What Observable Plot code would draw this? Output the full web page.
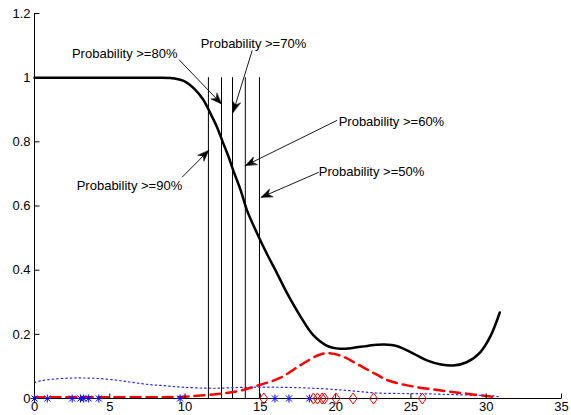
<!DOCTYPE html>
<html><head><meta charset="utf-8">
<script src="https://cdn.jsdelivr.net/npm/d3@7"></script>
<script src="https://cdn.jsdelivr.net/npm/@observablehq/plot@0.6"></script>
<style>body{margin:0;background:#fff;}</style>
</head><body><div id="chart"></div>
<script>
// Black solid curve (probability)
const blackX = [0,2,4,6,8,9,9.9,10.6,11.2,11.7,12.1,12.5,12.9,13.2,13.7,14.1,14.8,15.5,16.0,16.8,17.7,18.5,19.4,20.3,21.2,22.1,23.2,24.1,25.2,26.1,27.0,27.8,28.7,29.6,30.3,30.9];
const blackY = [1,1,1,1,1,0.999,0.99,0.966,0.932,0.887,0.848,0.800,0.752,0.711,0.648,0.588,0.513,0.445,0.40,0.326,0.253,0.198,0.165,0.155,0.158,0.164,0.168,0.163,0.139,0.118,0.106,0.103,0.113,0.144,0.196,0.268];
// Red dashed curve
const redX = [0,5,9.7,11,12.35,13.7,15,16.3,17.7,18.8,19.4,20.3,21.6,22.7,23.5,25.2,27.0,28.7,30.3,30.7];
const redY = [0.004,0.004,0.005,0.009,0.015,0.025,0.043,0.064,0.105,0.134,0.141,0.134,0.103,0.075,0.056,0.037,0.025,0.015,0.006,0.002];
// Blue dotted curve
const blueX = [0,0.5,2,3,4,5.3,6.4,7.5,8.6,9.9,11.9,14.1,16.3,18.5,20.8,22.8,25.6,28,30.5,30.8];
const blueY = [0.05,0.056,0.063,0.064,0.063,0.058,0.051,0.044,0.04,0.035,0.032,0.035,0.035,0.032,0.025,0.017,0.015,0.012,0.008,0.006];
// Markers at y = 0
const starX = [0,0.85,2.5,3.05,3.27,3.6,4.27,9.67,15.97,16.9,18.25];
const diamondX = [15.23,18.52,18.79,19.1,19.26,20.02,21.16,22.52,25.76];
// Threshold vertical lines
const thresholdX = [11.55,12.42,13.15,14.0,14.94];
// Annotations
const labelText = ["Probability >=80%","Probability >=70%","Probability >=60%","Probability >=50%","Probability >=90%"];
const labelX = [5.99,14.54,20.2,18.88,9.81];
const labelY = [1.075,1.106,0.861,0.705,0.664];
const labelAnchor = ["middle","middle","start","start","end"];
const arrowX1 = [9.6,14.46,20.1,18.88,9.81];
const arrowY1 = [1.056,1.085,0.867,0.705,0.69];
const arrowX2 = [12.42,13.19,14.01,15.05,11.57];
const arrowY2 = [0.918,0.892,0.726,0.627,0.773];
// Axis ticks
const xTicks = [0,5,10,15,20,25,30,35];
const yTicks = [0,0.2,0.4,0.6,0.8,1,1.2];

const W = 571, H = 415, mL = 34, mR = 10, mT = 13, mB = 17;
const kx = (W - mL - mR) / 35, ky = (H - mT - mB) / 1.2;
const FONT = "'Liberation Sans', Arial, Helvetica, sans-serif";

const black = blackX.map((x, i) => ({x, y: blackY[i]}));
const red = redX.map((x, i) => ({x, y: redY[i]}));
const blue = blueX.map((x, i) => ({x, y: blueY[i]}));
const labels = labelText.map((t, i) => ({t, x: labelX[i], y: labelY[i], a: labelAnchor[i]}));
const arrows = arrowX1.map((x1, i) => {
  const x2 = arrowX2[i], y1 = arrowY1[i], y2 = arrowY2[i];
  const dx = (x2 - x1) * kx, dy = -(y2 - y1) * ky;
  return {x1, y1, x2, y2, rot: Math.atan2(dx, -dy) * 180 / Math.PI};
});

const asterisk = {draw(c) {
  const r = 4, d = 3;
  c.moveTo(-r, 0); c.lineTo(r, 0);
  c.moveTo(0, -r); c.lineTo(0, r);
  c.moveTo(-d, -d); c.lineTo(d, d);
  c.moveTo(-d, d); c.lineTo(d, -d);
}};
const diamond = {draw(c) {
  c.moveTo(0, -5.5); c.lineTo(4, 0); c.lineTo(0, 5.5); c.lineTo(-4, 0); c.closePath();
}};
const yTickSym = {draw(c) { c.moveTo(0, 0); c.lineTo(5, 0); }};
const xTickSym = {draw(c) { c.moveTo(0, 0); c.lineTo(0, -5); }};
const head = {draw(c, l) {
  c.moveTo(0, -l); c.lineTo(4.2, 0); c.lineTo(0, -l * 0.3); c.lineTo(-4.2, 0); c.closePath();
}};

const textMarks = ["middle", "start", "end"].map(a =>
  Plot.text(labels.filter(d => d.a === a), {x: "x", y: "y", text: "t", textAnchor: a, fill: "#000", fontSize: 13, fontFamily: FONT})
);

const plot = Plot.plot({
  width: W, height: H,
  marginLeft: mL, marginRight: mR, marginTop: mT, marginBottom: mB,
  style: {fontFamily: FONT, fontSize: "13px", background: "#fff", color: "#000"},
  x: {domain: [0, 35]},
  y: {domain: [0, 1.2]},
  marks: [
    Plot.ruleX(thresholdX, {y1: 0, y2: 1, stroke: "#000", strokeWidth: 1}),
    Plot.line(blue, {x: "x", y: "y", stroke: "#2a2aff", strokeWidth: 1.2, strokeDasharray: "1.5,3", curve: "catmull-rom"}),
    Plot.line(red, {x: "x", y: "y", stroke: "#ff0000", strokeWidth: 2.5, strokeDasharray: "10,6", curve: "catmull-rom"}),
    Plot.line(black, {x: "x", y: "y", stroke: "#000", strokeWidth: 2.5, curve: "catmull-rom"}),
    Plot.ruleX([0], {y1: 0, y2: 1.2, stroke: "#000", strokeWidth: 1}),
    Plot.ruleY([0], {stroke: "#000", strokeWidth: 1}),
    Plot.dot(yTicks, {x: 0, y: d => d, symbol: yTickSym, stroke: "#000", strokeWidth: 1}),
    Plot.dot(xTicks, {x: d => d, y: 0, symbol: xTickSym, stroke: "#000", strokeWidth: 1}),
    Plot.axisX({ticks: xTicks, tickSize: 0, tickPadding: 3, label: null, fontSize: 13, fontFamily: FONT}),
    Plot.axisY({ticks: yTicks, tickSize: 0, tickPadding: 4, label: null, fontSize: 13, fontFamily: FONT, tickFormat: d => String(+d.toFixed(1))}),
    Plot.dot(starX, {x: d => d, y: 0, symbol: asterisk, stroke: "#0000ff", strokeWidth: 1}),
    Plot.dot(diamondX, {x: d => d, y: 0, symbol: diamond, stroke: "#ff0000", fill: "none", strokeWidth: 1}),
    Plot.link(arrows, {x1: "x1", y1: "y1", x2: "x2", y2: "y2", stroke: "#000", strokeWidth: 0.9}),
    Plot.vector(arrows, {x: "x2", y: "y2", rotate: "rot", length: 11, anchor: "end", shape: head, fill: "#000", stroke: "#000", strokeWidth: 0.5}),
    ...textMarks
  ]
});
document.getElementById("chart").appendChild(plot);
</script>
</body></html>
